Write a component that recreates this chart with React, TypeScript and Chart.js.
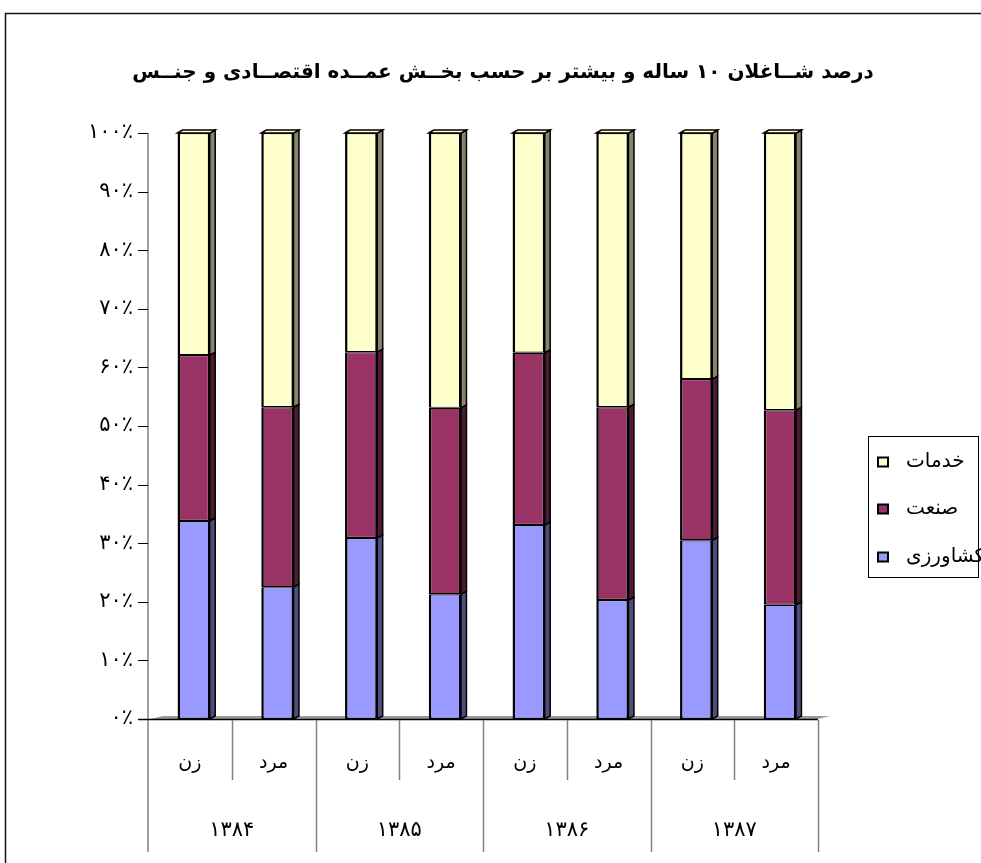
import React, { useEffect, useRef } from 'react';
import { Chart, registerables } from 'chart.js';

Chart.register(...registerables);

const chartTitle = 'درصد شــاغلان ۱۰ ساله و بیشتر بر حسب بخــش عمــده اقتصــادی و جنــس';
const categories = ['زن', 'مرد', 'زن', 'مرد', 'زن', 'مرد', 'زن', 'مرد'];
const years = ['۱۳۸۴', '۱۳۸۵', '۱۳۸۶', '۱۳۸۷'];
const seriesNames = ['کشاورزی', 'صنعت', 'خدمات'];
const agriculture = [33.8, 22.5, 30.9, 21.3, 33.1, 20.3, 30.5, 19.5];
const industry = [28.3, 30.7, 31.7, 31.8, 29.4, 32.9, 27.5, 33.2];
const services = [37.9, 46.8, 37.4, 46.9, 37.5, 46.8, 42.0, 47.3];
const yTickLabels = ['۰٪', '۱۰٪', '۲۰٪', '۳۰٪', '۴۰٪', '۵۰٪', '۶۰٪', '۷۰٪', '۸۰٪', '۹۰٪', '۱۰۰٪'];

const frontColors = ['#9999FF', '#993366', '#FFFFCC'];
const sideColors = ['#4d4d80', '#4d1a33', '#85856a'];

const FONT = '"DejaVu Sans", sans-serif';
const DX = 5; // 3D depth x
const DY = 3; // 3D depth y
const SHIFT = 4; // offset of back wall/table relative to bar scale

const decorPlugin = {
  id: 'decor',
  beforeDraw(chart: any) {
    const ctx = chart.ctx;
    ctx.save();
    ctx.fillStyle = '#ffffff';
    ctx.fillRect(0, 0, chart.width, chart.height);
    ctx.strokeStyle = '#111111';
    ctx.lineWidth = 1.5;
    ctx.strokeRect(5.5, 13.5, 3000, 3000);
    ctx.fillStyle = '#000';
    ctx.font = 'bold 20px ' + FONT;
    ctx.textAlign = 'center';
    ctx.textBaseline = 'middle';
    ctx.direction = 'rtl';
    ctx.fillText(chartTitle, 503, 73);
    ctx.restore();
  },
  beforeDatasetsDraw(chart: any) {
    const ctx = chart.ctx;
    const { left, right, top, bottom } = chart.chartArea;
    const yScale = chart.scales.y;
    const axisX = left - SHIFT;
    const tableRight = right - SHIFT;
    ctx.save();
    // floor
    ctx.fillStyle = '#9a9a9a';
    ctx.beginPath();
    ctx.moveTo(axisX + 2, bottom);
    ctx.lineTo(axisX + 15, bottom - DY);
    ctx.lineTo(tableRight + 12, bottom - DY);
    ctx.lineTo(tableRight, bottom);
    ctx.closePath();
    ctx.fill();
    // y axis line (grey)
    ctx.strokeStyle = '#808080';
    ctx.lineWidth = 1.5;
    ctx.beginPath();
    ctx.moveTo(axisX, top);
    ctx.lineTo(axisX, 852);
    ctx.stroke();
    // tick marks
    ctx.strokeStyle = '#000';
    ctx.lineWidth = 1;
    for (let i = 0; i < yTickLabels.length; i++) {
      const py = Math.round(yScale.getPixelForValue(i * 10)) + 0.5;
      ctx.beginPath();
      ctx.moveTo(axisX - 10, py);
      ctx.lineTo(axisX, py);
      ctx.stroke();
    }
    // x axis line
    ctx.lineWidth = 1.5;
    ctx.beginPath();
    ctx.moveTo(axisX - 10, bottom + 0.5);
    ctx.lineTo(tableRight, bottom + 0.5);
    ctx.stroke();
    ctx.restore();
  },
  afterDatasetsDraw(chart: any) {
    const ctx = chart.ctx;
    const { left, right, bottom } = chart.chartArea;
    const xScale = chart.scales.x;
    ctx.save();
    ctx.strokeStyle = '#000';
    ctx.lineWidth = 1.5;
    ctx.lineJoin = 'miter';
    const nSets = chart.data.datasets.length;
    for (let d = 0; d < nSets; d++) {
      const meta = chart.getDatasetMeta(d);
      meta.data.forEach((el: any) => {
        const p = el.getProps(['x', 'y', 'base', 'width'], true);
        const r = p.x + p.width / 2;
        const l = p.x - p.width / 2;
        const t = Math.min(p.y, p.base);
        const b = Math.max(p.y, p.base);
        ctx.fillStyle = sideColors[d];
        ctx.beginPath();
        ctx.moveTo(r - 0.5, t);
        ctx.lineTo(r + DX, t - DY);
        ctx.lineTo(r + DX, b - DY);
        ctx.lineTo(r - 0.5, b);
        ctx.closePath();
        ctx.fill();
        ctx.stroke();
        if (d === nSets - 1) {
          ctx.fillStyle = frontColors[d];
          ctx.beginPath();
          ctx.moveTo(l, t);
          ctx.lineTo(l + DX, t - DY);
          ctx.lineTo(r + DX, t - DY);
          ctx.lineTo(r, t);
          ctx.closePath();
          ctx.fill();
          ctx.stroke();
        }
      });
    }
    // category table
    const n = categories.length;
    const catW = (right - left) / n;
    const x0 = left - SHIFT;
    ctx.strokeStyle = '#808080';
    ctx.lineWidth = 1.5;
    for (let i = 1; i <= n; i++) {
      const lx = Math.round(x0 + i * catW) + 0.5;
      ctx.beginPath();
      ctx.moveTo(lx, bottom + 1);
      ctx.lineTo(lx, i % 2 === 0 ? 852 : 780);
      ctx.stroke();
    }
    ctx.fillStyle = '#000';
    ctx.textAlign = 'center';
    ctx.textBaseline = 'middle';
    ctx.direction = 'rtl';
    ctx.font = '19px ' + FONT;
    categories.forEach((c, i) => {
      const cx = xScale.getPixelForValue(i) - SHIFT;
      ctx.fillText(c, cx, 763);
    });
    ctx.font = '21px ' + FONT;
    years.forEach((yv, g) => {
      const cx = (xScale.getPixelForValue(2 * g) + xScale.getPixelForValue(2 * g + 1)) / 2 - SHIFT;
      ctx.fillText(yv, cx, 831);
    });
    // legend
    ctx.strokeStyle = '#000';
    ctx.lineWidth = 1;
    ctx.strokeRect(868.5, 436.5, 110, 141);
    const legendY = [462, 509, 557];
    const order = [2, 1, 0];
    ctx.textAlign = 'left';
    ctx.font = '20px ' + FONT;
    order.forEach((d, k) => {
      const yc = legendY[k];
      ctx.fillStyle = frontColors[d];
      ctx.fillRect(878, yc - 4.5, 10, 9);
      ctx.lineWidth = 2;
      ctx.strokeRect(878, yc - 4.5, 10, 9);
      ctx.fillStyle = '#000';
      ctx.fillText(chart.data.datasets[d].label, 906, yc);
    });
    ctx.restore();
  },
};

export default function App() {
  const ref = useRef<HTMLCanvasElement>(null);
  useEffect(() => {
    if (!ref.current) return;
    const mk = (label: string, data: number[], i: number) => ({
      label,
      data,
      backgroundColor: frontColors[i],
      borderColor: '#000',
      borderWidth: { left: 2.5, right: 2.5, top: 1.2, bottom: 1.2 },
      borderSkipped: false,
      categoryPercentage: 1,
      barPercentage: 0.39,
    });
    const chart = new Chart(ref.current, {
      type: 'bar',
      data: {
        labels: categories,
        datasets: [
          mk(seriesNames[0], agriculture, 0),
          mk(seriesNames[1], industry, 1),
          mk(seriesNames[2], services, 2),
        ],
      },
      options: {
        animation: false,
        responsive: false,
        events: [],
        layout: { padding: { left: 52, right: 159, top: 133, bottom: 144 } },
        plugins: { legend: { display: false }, title: { display: false }, tooltip: { enabled: false } },
        scales: {
          x: { stacked: true, display: false },
          y: {
            stacked: true,
            min: 0,
            max: 100,
            afterFit: (s: any) => { s.width = 100; },
            grid: { display: false, drawTicks: false },
            border: { display: false },
            ticks: {
              stepSize: 10,
              padding: 19,
              color: '#000',
              font: { family: 'DejaVu Sans', size: 21 },
              callback: (_v: any, i: number) => yTickLabels[i],
            },
          },
        },
      },
      plugins: [decorPlugin],
    });
    return () => chart.destroy();
  }, []);
  return (
    <div style={{ position: 'absolute', left: 0, top: 0, width: 981, height: 863 }}>
      <canvas ref={ref} width={981} height={863} style={{ display: 'block' }} />
    </div>
  );
}
